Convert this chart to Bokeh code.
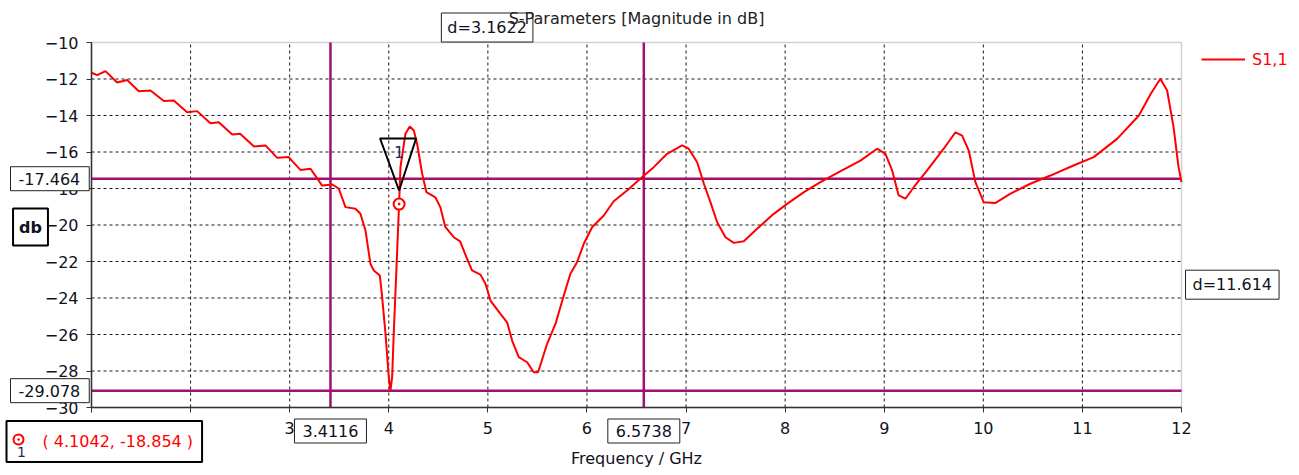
from bokeh.plotting import figure
from bokeh.models import Label, Legend, LegendItem, Range1d, FixedTicker, LinearAxis, BoxAnnotation
from bokeh.embed import file_html
from bokeh.resources import INLINE

# ---- data ----
freq = [1.000, 1.057, 1.141, 1.259, 1.360, 1.477, 1.595, 1.730, 1.830, 1.965,
        2.066, 2.200, 2.285, 2.420, 2.500, 2.640, 2.756, 2.874, 2.990, 3.108,
        3.210, 3.328, 3.430, 3.495, 3.563, 3.664, 3.714, 3.765, 3.815, 3.849,
        3.910, 3.930, 3.967, 4.000, 4.017, 4.034, 4.050, 4.078, 4.1042, 4.118,
        4.168, 4.212, 4.253, 4.286, 4.337, 4.380, 4.470, 4.520, 4.570, 4.656,
        4.720, 4.790, 4.840, 4.925, 4.976, 5.026, 5.127, 5.194, 5.245, 5.312,
        5.396, 5.463, 5.507, 5.598, 5.683, 5.766, 5.833, 5.900, 5.968, 6.052,
        6.170, 6.270, 6.405, 6.556, 6.674, 6.809, 6.960, 7.027, 7.112, 7.180,
        7.246, 7.314, 7.398, 7.482, 7.583, 7.717, 7.885, 8.020, 8.190, 8.356,
        8.560, 8.760, 8.928, 9.012, 9.080, 9.146, 9.214, 9.298, 9.433, 9.600,
        9.719, 9.786, 9.853, 9.920, 10.004, 10.120, 10.270, 10.475, 10.677, 10.910,
        11.114, 11.350, 11.570, 11.690, 11.787, 11.855, 11.920, 11.970, 12.000]
s11 = [-11.66, -11.79, -11.57, -12.19, -12.05, -12.67, -12.63, -13.21, -13.18, -13.82,
       -13.76, -14.42, -14.37, -15.04, -15.00, -15.70, -15.64, -16.32, -16.28, -16.98,
       -16.92, -17.84, -17.78, -18.00, -19.02, -19.11, -19.38, -20.30, -22.13, -22.49,
       -22.77, -23.77, -25.96, -28.34, -29.08, -28.34, -25.96, -22.31, -18.854, -16.83,
       -15.00, -14.60, -14.82, -15.55, -17.19, -18.20, -18.48, -19.02, -20.10, -20.67,
       -20.90, -21.85, -22.49, -22.72, -23.22, -24.14, -24.87, -25.33, -26.33, -27.24,
       -27.52, -28.07, -28.07, -26.51, -25.41, -23.86, -22.67, -22.04, -21.03, -20.12,
       -19.48, -18.70, -18.11, -17.38, -16.83, -16.10, -15.64, -15.82, -16.56, -17.74,
       -18.75, -19.85, -20.67, -20.98, -20.89, -20.21, -19.39, -18.84, -18.20, -17.65,
       -17.05, -16.47, -15.82, -16.10, -17.01, -18.38, -18.56, -17.93, -17.01, -15.82,
       -14.92, -15.10, -15.92, -17.65, -18.75, -18.80, -18.29, -17.74, -17.29, -16.74,
       -16.28, -15.28, -14.00, -12.81, -11.99, -12.63, -14.64, -16.83, -17.65]
x_ticks = list(range(1, 13))
y_ticks = list(range(-30, -9, 2))
vmarkers = [3.4116, 6.5738]
hmarkers = [-17.464, -29.078]
marker_f = 4.1042
marker_db = -18.854
series_name = "S1,1"
title_text = "S-Parameters [Magnitude in dB]"
x_label = "Frequency / GHz"
y_label = "db"

FONT = "DejaVu Sans"
FS = "16px"
TXT = "#111122"
MAG = "#a0106e"
W, H = 1299, 475
L, R, T, B = 91, 118, 42, 68           # plot-area offsets inside the canvas
xmin, xmax = x_ticks[0], x_ticks[-1]
ymin, ymax = y_ticks[0], y_ticks[-1]
px_f = (W - L - R) / (xmax - xmin)
px_db = (H - T - B) / (ymax - ymin)
x_lo = xmin - L / px_f
y_hi = ymax + T / px_db

# the frame spans the whole canvas so that every annotation is visible;
# the axes are pinned to the plot-area edges with fixed_location
p = figure(width=W, height=H,
           x_range=Range1d(x_lo, xmax + R / px_f),
           y_range=Range1d(ymin - B / px_db, y_hi),
           output_backend="svg", toolbar_location=None, title=None,
           x_axis_location=None, y_axis_location=None, min_border=0)
p.outline_line_color = None
p.background_fill_color = "white"
p.border_fill_color = "white"
p.grid.visible = False


def style_axis(ax):
    ax.major_label_text_font = FONT
    ax.major_label_text_font_size = FS
    ax.major_label_text_color = TXT
    ax.major_tick_out = 5
    ax.major_tick_in = 0
    ax.minor_tick_out = 0
    ax.minor_tick_in = 0
    ax.axis_line_color = "#333333"
    ax.axis_line_width = 1.5
    ax.major_tick_line_color = "#333333"


xaxis = LinearAxis(fixed_location=ymin, bounds=(xmin, xmax), ticker=FixedTicker(ticks=x_ticks))
style_axis(xaxis)
xaxis.major_label_standoff = 9
xaxis.axis_label = x_label
xaxis.axis_label_text_font = FONT
xaxis.axis_label_text_font_size = FS
xaxis.axis_label_text_font_style = "normal"
xaxis.axis_label_text_color = TXT
xaxis.axis_label_standoff = 12
yaxis = LinearAxis(fixed_location=xmin, bounds=(ymin, ymax), ticker=FixedTicker(ticks=y_ticks))
style_axis(yaxis)
yaxis.major_label_standoff = 8

# plot-area border (top / right grey)
p.add_layout(BoxAnnotation(left=xmin, right=xmax, bottom=ymin, top=ymax, fill_alpha=0,
                           line_color="#666666", line_width=1.5, level="underlay"))

# dashed grid inside the plot area
gx = x_ticks[1:-1]
gy = y_ticks[1:-1]
p.segment(x0=gx, y0=[ymin] * len(gx), x1=gx, y1=[ymax] * len(gx),
          line_color="black", line_dash="3 3", line_width=1, line_alpha=0.9)
p.segment(x0=[xmin] * len(gy), y0=gy, x1=[xmax] * len(gy), y1=gy,
          line_color="black", line_dash="3 3", line_width=1, line_alpha=0.9)

# marker lines
p.segment(x0=vmarkers, y0=[ymin] * 2, x1=vmarkers, y1=[ymax] * 2, line_color=MAG, line_width=2.5)
p.segment(x0=[xmin] * 2, y0=hmarkers, x1=[xmax] * 2, y1=hmarkers, line_color=MAG, line_width=2.5)

line_r = p.line(freq, s11, line_color="#ff0000", line_width=2)

p.add_layout(xaxis, "below")
p.add_layout(yaxis, "left")

# marker triangle and point
tri_x = [marker_f - 19 / px_f, marker_f + 17 / px_f, marker_f]
tri_y = [marker_db + 65.6 / px_db, marker_db + 65.6 / px_db, marker_db + 13.6 / px_db]
p.patch(tri_x, tri_y, fill_alpha=0, line_color="black", line_width=2)
p.scatter([marker_f], [marker_db], marker="circle_dot", size=11, line_color="#ff0000",
          fill_color="white", line_width=2)
p.add_layout(Label(x=marker_f, y=marker_db + 51.6 / px_db, text="1", text_align="center",
                   text_baseline="middle", text_font=FONT, text_font_size=FS, text_color="#1f2d5c"))


def box_label(**kw):
    base = dict(text_font=FONT, text_font_size=FS, text_color=TXT, text_baseline="middle",
                border_line_color="#222222", border_line_width=1, background_fill_color="white")
    base.update(kw)
    return Label(**base)


for h in hmarkers:
    p.add_layout(box_label(x=10, x_units="screen", y=h, text=f"{h:.3f}", text_align="left",
                           padding=dict(left=8, right=9, top=6, bottom=6)))
for v in vmarkers:
    p.add_layout(box_label(x=v, y=44.5, y_units="screen", text=f"{v:.4f}", text_align="center",
                           padding=dict(left=8, right=8, top=6, bottom=6)))
p.add_layout(box_label(x=(vmarkers[0] + vmarkers[1]) / 2, y=448, y_units="screen",
                       text=f"d={vmarkers[1] - vmarkers[0]:.4f}", text_align="center",
                       padding=dict(left=6, right=6, top=5, bottom=5)))
p.add_layout(box_label(x=1185, x_units="screen", y=(hmarkers[0] + hmarkers[1]) / 2,
                       text=f"d={hmarkers[0] - hmarkers[1]:.3f}", text_align="left",
                       padding=dict(left=7, right=7, top=5, bottom=5)))
p.add_layout(box_label(x=30, x_units="screen", y=H - 226.5, y_units="screen", text=y_label,
                       text_align="center", text_font_style="bold", border_line_width=2,
                       border_line_color="black",
                       padding=dict(left=6, right=6, top=9, bottom=9)))

# marker readout box
p.add_layout(box_label(x=6, x_units="screen", y=H - 441, y_units="screen",
                       text=f"( {marker_f}, {marker_db} )", text_align="left",
                       text_color="#ff0000", border_line_width=2, border_line_color="black",
                       padding=dict(left=36, right=9, top=11, bottom=11)))
p.scatter([x_lo + 18 / px_f], [y_hi - 439 / px_db], marker="circle_dot", size=10,
          line_color="#ff0000", fill_color="white", line_width=2, level="overlay")
p.add_layout(Label(x=21, x_units="screen", y=H - 451, y_units="screen", text="1",
                   text_align="center", text_baseline="middle", text_font=FONT,
                   text_font_size="14px", text_color="#1f2d5c"))

# title on top
p.add_layout(Label(x=636, x_units="screen", y=H - 18, y_units="screen", text=title_text,
                   text_align="center", text_baseline="middle", text_font=FONT,
                   text_font_size=FS, text_color="#222222"))

legend = Legend(items=[LegendItem(label=series_name, renderers=[line_r])],
                location=(1201, H - 69), glyph_width=44, glyph_height=20, label_standoff=7,
                padding=0, margin=0, border_line_alpha=0, background_fill_alpha=0,
                label_text_font=FONT, label_text_font_size=FS, label_text_color="#ff0000",
                label_height=20)
p.add_layout(legend)

open("out.html", "w").write(file_html(p, INLINE))
